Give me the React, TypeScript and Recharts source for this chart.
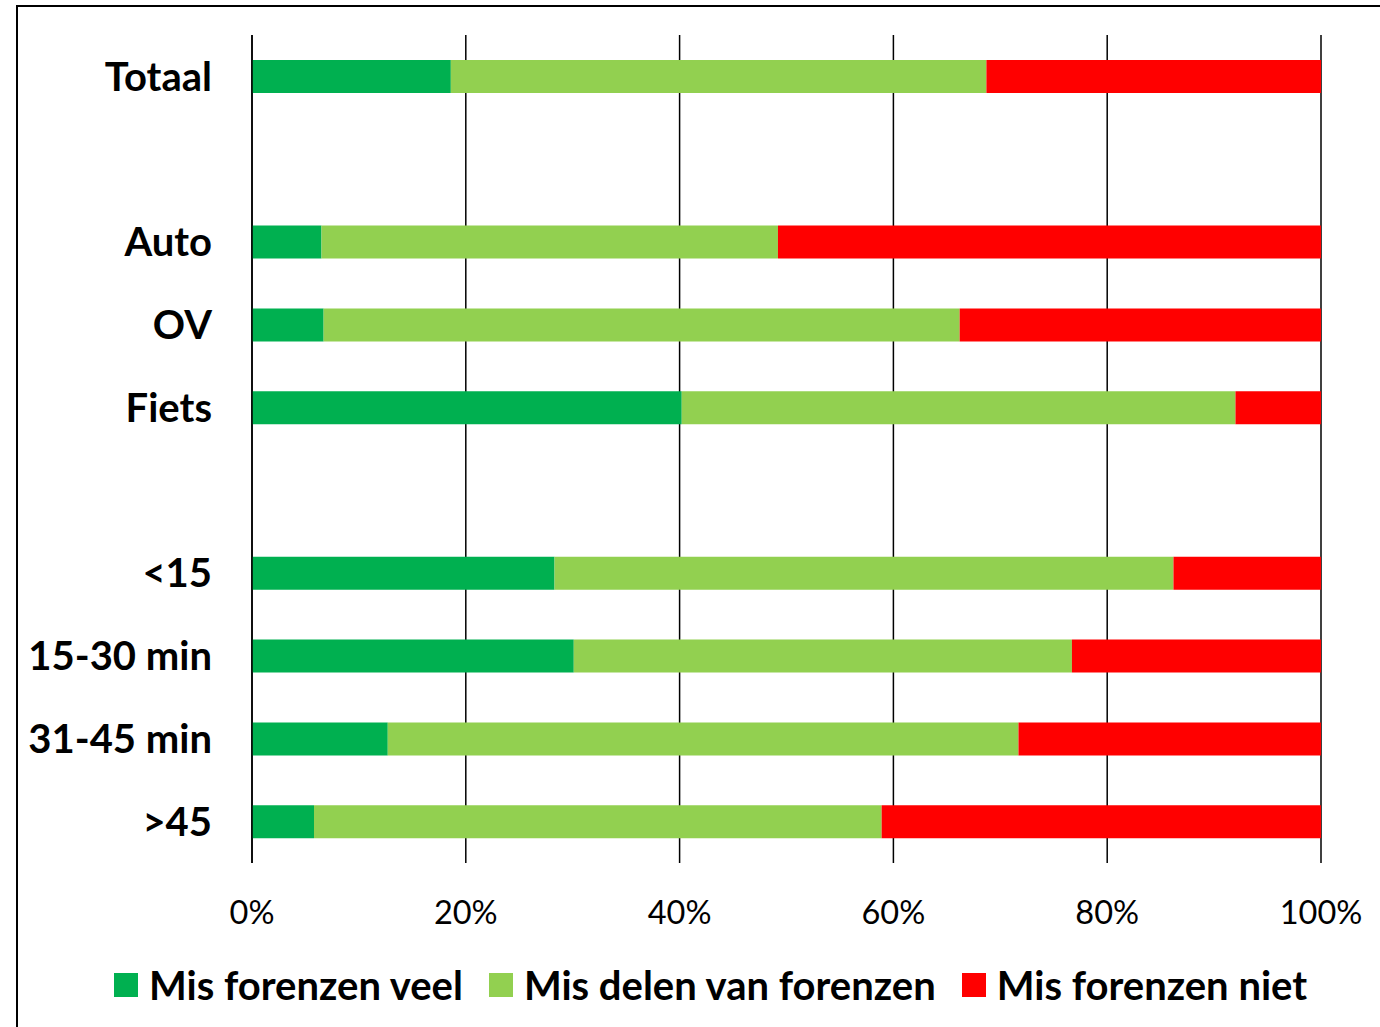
import React from 'react';
import { BarChart, Bar, XAxis, YAxis, CartesianGrid } from 'recharts';

const categories = ['Totaal', ' ', 'Auto', 'OV', 'Fiets', '  ', '<15', '15-30 min', '31-45 min', '>45'];
const veel = [18.6, null, 6.5, 6.7, 40.2, null, 28.3, 30.1, 12.7, 5.8];
const delen = [50.1, null, 42.7, 59.5, 51.8, null, 57.9, 46.6, 59.0, 53.1];
const niet = [31.3, null, 50.8, 33.8, 8.0, null, 13.8, 23.3, 28.3, 41.1];
const xTicks = [0, 20, 40, 60, 80, 100];

const series = [
  { key: 'veel', name: 'Mis forenzen veel', color: '#00B050' },
  { key: 'delen', name: 'Mis delen van forenzen', color: '#92D050' },
  { key: 'niet', name: 'Mis forenzen niet', color: '#FF0000' },
];

const data = categories.map((cat, i) => ({
  cat,
  veel: veel[i],
  delen: delen[i],
  niet: niet[i],
}));

const FONT = 'Lato, "Open Sans", sans-serif';

const LegendBox = () => (
  <div
    style={{
      position: 'absolute', left: 114, top: 962, height: 46,
      display: 'flex', alignItems: 'center', gap: 26, fontFamily: FONT,
    }}
  >
    {series.map((s) => (
      <div key={s.key} style={{ display: 'flex', alignItems: 'center' }}>
        <span style={{ width: 24, height: 24, background: s.color, display: 'inline-block', marginRight: 11 }} />
        <span style={{ fontSize: 40, fontWeight: 700, color: '#000', lineHeight: '46px' }}>{s.name}</span>
      </div>
    ))}
  </div>
);

export default function App() {
  return (
    <div style={{ position: 'absolute', left: 0, top: 0, width: 1380, height: 1027, overflow: 'hidden', background: '#fff' }}>
      <div style={{ position: 'absolute', left: 16, top: 5, width: 1420, height: 1080, border: '2px solid #000' }} />
      <BarChart
        width={1380}
        height={1027}
        data={data}
        layout="vertical"
        margin={{ top: 35, right: 59, left: 0, bottom: 84 }}
        style={{ position: 'absolute', left: 0, top: 0 }}
      >
        <CartesianGrid vertical horizontal={false} stroke="#000" strokeWidth={1.5} />
        <XAxis
          type="number"
          domain={[0, 100]}
          ticks={xTicks}
          tickFormatter={(v) => `${v}%`}
          axisLine={false}
          tickLine={false}
          tickMargin={32}
          height={80}
          tick={{ fill: '#000', fontSize: 32.5, fontFamily: FONT }}
        />
        <YAxis
          type="category"
          dataKey="cat"
          width={252}
          axisLine={{ stroke: '#000', strokeWidth: 1.5 }}
          tickLine={false}
          tickMargin={34}
          tick={{ fill: '#000', fontSize: 40, fontWeight: 700, fontFamily: FONT }}
        />
        {series.map((s) => (
          <Bar key={s.key} dataKey={s.key} name={s.name} stackId="a" fill={s.color} barSize={33} isAnimationActive={false} />
        ))}
      </BarChart>
      <LegendBox />
    </div>
  );
}
